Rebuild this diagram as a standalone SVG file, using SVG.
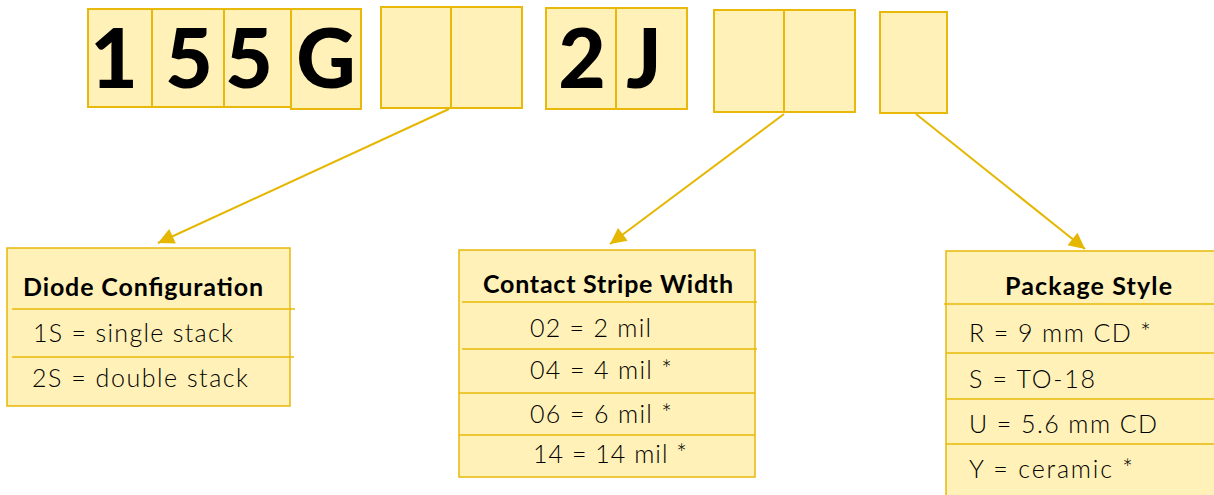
<svg xmlns="http://www.w3.org/2000/svg" width="1214" height="495" viewBox="0 0 1214 495">
<defs>
<style>
.cell{fill:#FFF1B7;stroke:#E8B80A;stroke-width:2}
.tbl{fill:#FFF1B7;stroke:#E8B80A;stroke-width:1.5}
.sep{stroke:#E8B80A;stroke-width:1.3;fill:none}
.big{font-family:Lato,"Liberation Sans",sans-serif;font-weight:900;font-size:82px;fill:#000;text-anchor:middle}
.hdr{font-family:Lato,"Liberation Sans",sans-serif;font-weight:700;font-size:25px;fill:#000}
.row{font-family:Lato,"Liberation Sans",sans-serif;font-weight:300;font-size:25px;fill:#000}
.conn{stroke:#E5B700;stroke-width:2;fill:none}
</style>
<marker id="ah" viewBox="0 0 10 10" refX="10" refY="5" markerWidth="9" markerHeight="8" markerUnits="strokeWidth" orient="auto">
<path d="M0,0 L10,5 L0,10 z" fill="#E5B700"/>
</marker>
</defs>
<rect width="1214" height="495" fill="#fff"/>

<g id="code1">
<rect class="cell" x="88" y="9" width="64" height="98"/>
<rect class="cell" x="152" y="9" width="72" height="98"/>
<rect class="cell" x="224" y="9" width="67" height="98"/>
<rect class="cell" x="291" y="9" width="70" height="100"/>
<text class="big" x="114" y="88">1</text>
<text class="big" x="189" y="88">5</text>
<text class="big" x="249" y="88">5</text>
<text class="big" x="326" y="88">G</text>
</g>
<g id="blank1">
<rect class="cell" x="381" y="7" width="70" height="101"/>
<rect class="cell" x="451" y="7" width="71" height="101"/>
</g>
<g id="code2">
<rect class="cell" x="546" y="8" width="70" height="101"/>
<rect class="cell" x="616" y="8" width="71" height="101"/>
<text class="big" x="582" y="88">2</text>
<text class="big" x="644" y="88">J</text>
</g>
<g id="blank2">
<rect class="cell" x="714" y="10" width="70" height="102"/>
<rect class="cell" x="784" y="10" width="71" height="102"/>
</g>
<g id="blank3">
<rect class="cell" x="880" y="12" width="67" height="101"/>
</g>

<g id="connectors">
<line class="conn" x1="449" y1="109" x2="158" y2="243" marker-end="url(#ah)"/>
<line class="conn" x1="784" y1="114" x2="610" y2="244" marker-end="url(#ah)"/>
<line class="conn" x1="916" y1="114" x2="1085" y2="249" marker-end="url(#ah)"/>
</g>

<g id="diode-config">
<rect class="tbl" x="7" y="248" width="283" height="158"/>
<line class="sep" x1="12" y1="309" x2="295" y2="309"/>
<line class="sep" x1="12" y1="357" x2="294" y2="357"/>
<text class="hdr" x="23" y="296" textLength="240" lengthAdjust="spacing">Diode Configuration</text>
<text class="row" x="33" y="342" textLength="200" lengthAdjust="spacing">1S = single stack</text>
<text class="row" x="32" y="387" textLength="216" lengthAdjust="spacing">2S = double stack</text>
</g>

<g id="contact-stripe">
<rect class="tbl" x="459" y="250" width="296" height="227"/>
<line class="sep" x1="462" y1="302" x2="757" y2="302"/>
<line class="sep" x1="462" y1="349" x2="757" y2="349"/>
<line class="sep" x1="459" y1="393" x2="755" y2="393"/>
<line class="sep" x1="459" y1="435" x2="755" y2="435"/>
<text class="hdr" x="483" y="293" textLength="250" lengthAdjust="spacing">Contact Stripe Width</text>
<text class="row" x="530" y="337" textLength="121" lengthAdjust="spacing">02 = 2 mil</text>
<text class="row" x="530" y="379" textLength="142" lengthAdjust="spacing">04 = 4 mil *</text>
<text class="row" x="530" y="423" textLength="142" lengthAdjust="spacing">06 = 6 mil *</text>
<text class="row" x="533" y="463" textLength="154" lengthAdjust="spacing">14 = 14 mil *</text>
</g>

<g id="package-style">
<rect class="tbl" x="946" y="251" width="280" height="260"/>
<line class="sep" x1="944" y1="304" x2="1214" y2="304"/>
<line class="sep" x1="946" y1="353" x2="1214" y2="353"/>
<line class="sep" x1="946" y1="399" x2="1214" y2="399"/>
<line class="sep" x1="946" y1="444" x2="1214" y2="444"/>
<text class="hdr" x="1005" y="295" textLength="167" lengthAdjust="spacing">Package Style</text>
<text class="row" x="969" y="342" textLength="182" lengthAdjust="spacing">R = 9 mm CD *</text>
<text class="row" x="969" y="388" textLength="126" lengthAdjust="spacing">S = TO-18</text>
<text class="row" x="969" y="433" textLength="188" lengthAdjust="spacing">U = 5.6 mm CD</text>
<text class="row" x="969" y="478" textLength="164" lengthAdjust="spacing">Y = ceramic *</text>
</g>
</svg>
